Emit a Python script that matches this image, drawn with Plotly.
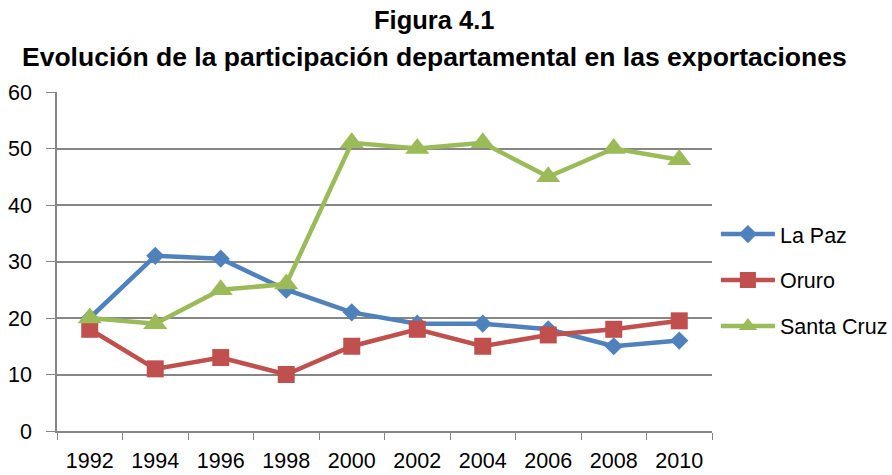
import plotly.graph_objects as go

# Years shown on the category axis
years = ["1992", "1994", "1996", "1998", "2000", "2002", "2004", "2006", "2008", "2010"]

# Departmental share of exports (%)
la_paz = [20, 31, 30.5, 25, 21, 19, 19, 18, 15, 16]
oruro = [18, 11, 13, 10, 15, 18, 15, 17, 18, 19.5]
santa_cruz = [20, 19, 25, 26, 51, 50, 51, 45, 50, 48]

y_ticks = [0, 10, 20, 30, 40, 50, 60]

FONT = "Liberation Sans, Arial, sans-serif"
GRID = "#868686"

series = [
    ("La Paz", la_paz, "#4F81BD", "diamond", 14),
    ("Oruro", oruro, "#C0504D", "square", 17),
    ("Santa Cruz", santa_cruz, "#9BBB59", "triangle-up", 21),
]

fig = go.Figure()
for name, vals, color, symbol, size in series:
    fig.add_trace(go.Scatter(
        x=years, y=vals, name=name, mode="lines+markers",
        legendgroup=name,
        line=dict(color=color, width=4.5),
        marker=dict(symbol=symbol, size=size, color=color,
                    line=dict(width=0)),
    ))

fig.update_layout(
    width=892, height=475,
    margin=dict(l=57, r=180, t=92, b=44, autoexpand=False),
    paper_bgcolor="white", plot_bgcolor="white",
    font=dict(family=FONT, size=21.5, color="black"),
    showlegend=True,
    legend=dict(
        x=1.006, xanchor="left", y=0.445, yanchor="middle",
        font=dict(family=FONT, size=21.5, color="black"),
        itemwidth=54, traceorder="grouped", tracegroupgap=15,
        bgcolor="rgba(0,0,0,0)",
    ),
    annotations=[
        dict(text="<b>Figura 4.1</b>", xref="paper", yref="paper",
             x=0.576, y=1.212, xanchor="center", yanchor="middle",
             showarrow=False,
             font=dict(family=FONT, size=25.5, color="black")),
        dict(text="<b>Evolución de la participación departamental en las exportaciones</b>",
             xref="paper", yref="paper", x=0.576, y=1.103,
             xanchor="center", yanchor="middle", showarrow=False,
             font=dict(family=FONT, size=26.5, color="black")),
    ],
)

fig.update_xaxes(
    type="category", categoryorder="array", categoryarray=years,
    tickson="boundaries", ticks="outside", ticklen=7, tickcolor=GRID,
    showline=True, linecolor=GRID, linewidth=1.5, tickangle=0,
    showgrid=False, ticklabelstandoff=9, automargin=False,
    range=[-0.5, len(years) - 0.5],
)
fig.update_yaxes(
    range=[0, 60], tickvals=y_ticks, ticks="outside", ticklen=9,
    tickcolor=GRID, showline=True, linecolor=GRID, linewidth=1.5,
    showgrid=True, gridcolor=GRID, gridwidth=1.5, zeroline=False,
    ticklabelstandoff=10, automargin=False,
)

fig.write_html("out.html")
